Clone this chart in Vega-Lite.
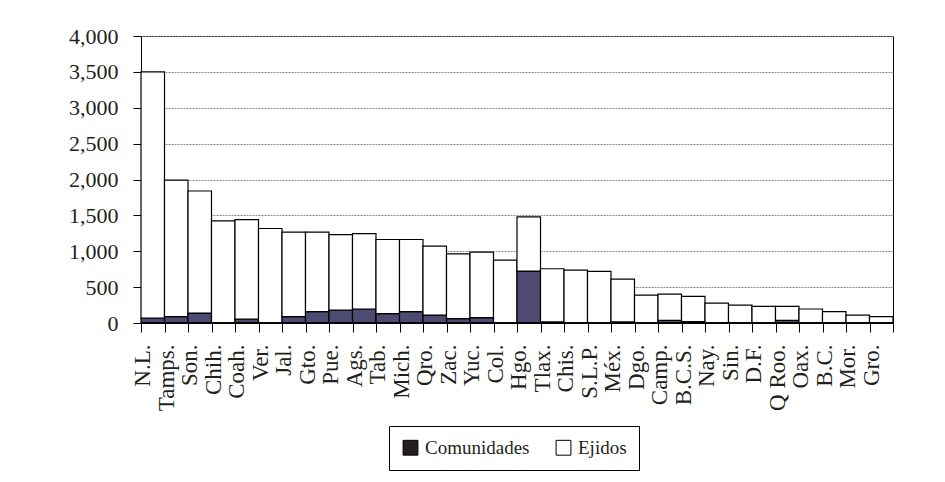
{
  "$schema": "https://vega.github.io/schema/vega-lite/v6.json",
  "autosize": {"type": "none"},
  "width": 752,
  "height": 287,
  "padding": {"left": 141, "top": 36, "right": 52, "bottom": 159},
  "background": "#ffffff",
  "config": {
    "font": "Liberation Serif",
    "view": {"stroke": "#000000", "strokeWidth": 1},
    "axisY": {
      "values": [0, 500, 1000, 1500, 2000, 2500, 3000, 3500, 4000],
      "format": ",d",
      "labelFont": "Liberation Serif",
      "labelFontSize": 22,
      "labelColor": "#231f20",
      "labelPadding": 15,
      "tickSize": 8,
      "tickColor": "#000000",
      "domainColor": "#000000",
      "gridColor": "#8a8a8a",
      "gridDash": [2, 1],
      "gridWidth": 1,
      "title": null
    }
  },
  "resolve": {"scale": {"color": "independent"}, "legend": {"color": "independent"}},
  "data": {
    "values": [
      {"estado": "N.L.", "tipo": "Comunidades", "valor": 70}, {"estado": "N.L.", "tipo": "Ejidos", "valor": 3430},
      {"estado": "Tamps.", "tipo": "Comunidades", "valor": 88}, {"estado": "Tamps.", "tipo": "Ejidos", "valor": 1902},
      {"estado": "Son.", "tipo": "Comunidades", "valor": 139}, {"estado": "Son.", "tipo": "Ejidos", "valor": 1701},
      {"estado": "Chih.", "tipo": "Comunidades", "valor": 0}, {"estado": "Chih.", "tipo": "Ejidos", "valor": 1423},
      {"estado": "Coah.", "tipo": "Comunidades", "valor": 56}, {"estado": "Coah.", "tipo": "Ejidos", "valor": 1386},
      {"estado": "Ver.", "tipo": "Comunidades", "valor": 0}, {"estado": "Ver.", "tipo": "Ejidos", "valor": 1317},
      {"estado": "Jal.", "tipo": "Comunidades", "valor": 88}, {"estado": "Jal.", "tipo": "Ejidos", "valor": 1178},
      {"estado": "Gto.", "tipo": "Comunidades", "valor": 158}, {"estado": "Gto.", "tipo": "Ejidos", "valor": 1108},
      {"estado": "Pue.", "tipo": "Comunidades", "valor": 181}, {"estado": "Pue.", "tipo": "Ejidos", "valor": 1052},
      {"estado": "Ags.", "tipo": "Comunidades", "valor": 195}, {"estado": "Ags.", "tipo": "Ejidos", "valor": 1052},
      {"estado": "Tab.", "tipo": "Comunidades", "valor": 130}, {"estado": "Tab.", "tipo": "Ejidos", "valor": 1034},
      {"estado": "Mich.", "tipo": "Comunidades", "valor": 158}, {"estado": "Mich.", "tipo": "Ejidos", "valor": 1006},
      {"estado": "Qro.", "tipo": "Comunidades", "valor": 111}, {"estado": "Qro.", "tipo": "Ejidos", "valor": 960},
      {"estado": "Zac.", "tipo": "Comunidades", "valor": 60}, {"estado": "Zac.", "tipo": "Ejidos", "valor": 904},
      {"estado": "Yuc.", "tipo": "Comunidades", "valor": 74}, {"estado": "Yuc.", "tipo": "Ejidos", "valor": 914},
      {"estado": "Col.", "tipo": "Comunidades", "valor": 0}, {"estado": "Col.", "tipo": "Ejidos", "valor": 876},
      {"estado": "Hgo.", "tipo": "Comunidades", "valor": 723}, {"estado": "Hgo.", "tipo": "Ejidos", "valor": 756},
      {"estado": "Tlax.", "tipo": "Comunidades", "valor": 15}, {"estado": "Tlax.", "tipo": "Ejidos", "valor": 741},
      {"estado": "Chis.", "tipo": "Comunidades", "valor": 0}, {"estado": "Chis.", "tipo": "Ejidos", "valor": 737},
      {"estado": "S.L.P.", "tipo": "Comunidades", "valor": 0}, {"estado": "S.L.P.", "tipo": "Ejidos", "valor": 719},
      {"estado": "Méx.", "tipo": "Comunidades", "valor": 15}, {"estado": "Méx.", "tipo": "Ejidos", "valor": 597},
      {"estado": "Dgo.", "tipo": "Comunidades", "valor": 0}, {"estado": "Dgo.", "tipo": "Ejidos", "valor": 389},
      {"estado": "Camp.", "tipo": "Comunidades", "valor": 37}, {"estado": "Camp.", "tipo": "Ejidos", "valor": 366},
      {"estado": "B.C.S.", "tipo": "Comunidades", "valor": 20}, {"estado": "B.C.S.", "tipo": "Ejidos", "valor": 351},
      {"estado": "Nay.", "tipo": "Comunidades", "valor": 0}, {"estado": "Nay.", "tipo": "Ejidos", "valor": 278},
      {"estado": "Sin.", "tipo": "Comunidades", "valor": 0}, {"estado": "Sin.", "tipo": "Ejidos", "valor": 250},
      {"estado": "D.F.", "tipo": "Comunidades", "valor": 0}, {"estado": "D.F.", "tipo": "Ejidos", "valor": 232},
      {"estado": "Q Roo.", "tipo": "Comunidades", "valor": 37}, {"estado": "Q Roo.", "tipo": "Ejidos", "valor": 195},
      {"estado": "Oax.", "tipo": "Comunidades", "valor": 0}, {"estado": "Oax.", "tipo": "Ejidos", "valor": 195},
      {"estado": "B.C.", "tipo": "Comunidades", "valor": 0}, {"estado": "B.C.", "tipo": "Ejidos", "valor": 158},
      {"estado": "Mor.", "tipo": "Comunidades", "valor": 0}, {"estado": "Mor.", "tipo": "Ejidos", "valor": 111},
      {"estado": "Gro.", "tipo": "Comunidades", "valor": 0}, {"estado": "Gro.", "tipo": "Ejidos", "valor": 88}
    ]
  },
  "encoding": {
    "x": {
      "field": "estado",
      "type": "nominal",
      "sort": null,
      "scale": {"paddingInner": 0, "paddingOuter": 0},
      "axis": {
        "title": null,
        "labelAngle": -90,
        "labelFont": "Liberation Serif",
        "labelFontSize": 23,
        "labelColor": "#231f20",
        "labelOffset": -10,
        "labelPadding": 12,
        "tickBand": "extent",
        "tickSize": 9,
        "tickColor": "#000000",
        "domainColor": "#000000",
        "labelOverlap": false
      }
    }
  },
  "layer": [
    {
      "mark": {"type": "bar", "stroke": "#000000", "strokeWidth": 1.2},
      "encoding": {
        "y": {
          "field": "valor",
          "type": "quantitative",
          "stack": "zero",
          "scale": {"domain": [0, 4000], "nice": false}
        },
        "order": {"field": "tipo", "sort": "ascending"},
        "color": {
          "field": "tipo",
          "type": "nominal",
          "scale": {"domain": ["Comunidades", "Ejidos"], "range": ["#4e4a72", "#ffffff"]},
          "legend": null
        }
      }
    },
    {
      "mark": {"type": "bar", "stroke": "#000000", "strokeWidth": 1},
      "encoding": {
        "y": {"datum": 0, "type": "quantitative"},
        "y2": {"datum": 0},
        "color": {
          "field": "tipo",
          "type": "nominal",
          "scale": {"domain": ["Comunidades", "Ejidos"], "range": ["#231f20", "#ffffff"]},
          "legend": {
            "title": null,
            "orient": "none",
            "legendX": 248,
            "legendY": 390,
            "direction": "horizontal",
            "symbolType": "square",
            "symbolSize": 220,
            "symbolStrokeColor": "#000000",
            "symbolStrokeWidth": 1,
            "symbolOpacity": 1,
            "labelFont": "Liberation Serif",
            "labelFontSize": 19,
            "labelColor": "#231f20",
            "labelOffset": 5,
            "columnPadding": 24,
            "padding": 12,
            "strokeColor": "#000000",
            "fillColor": "#ffffff"
          }
        }
      }
    }
  ]
}
